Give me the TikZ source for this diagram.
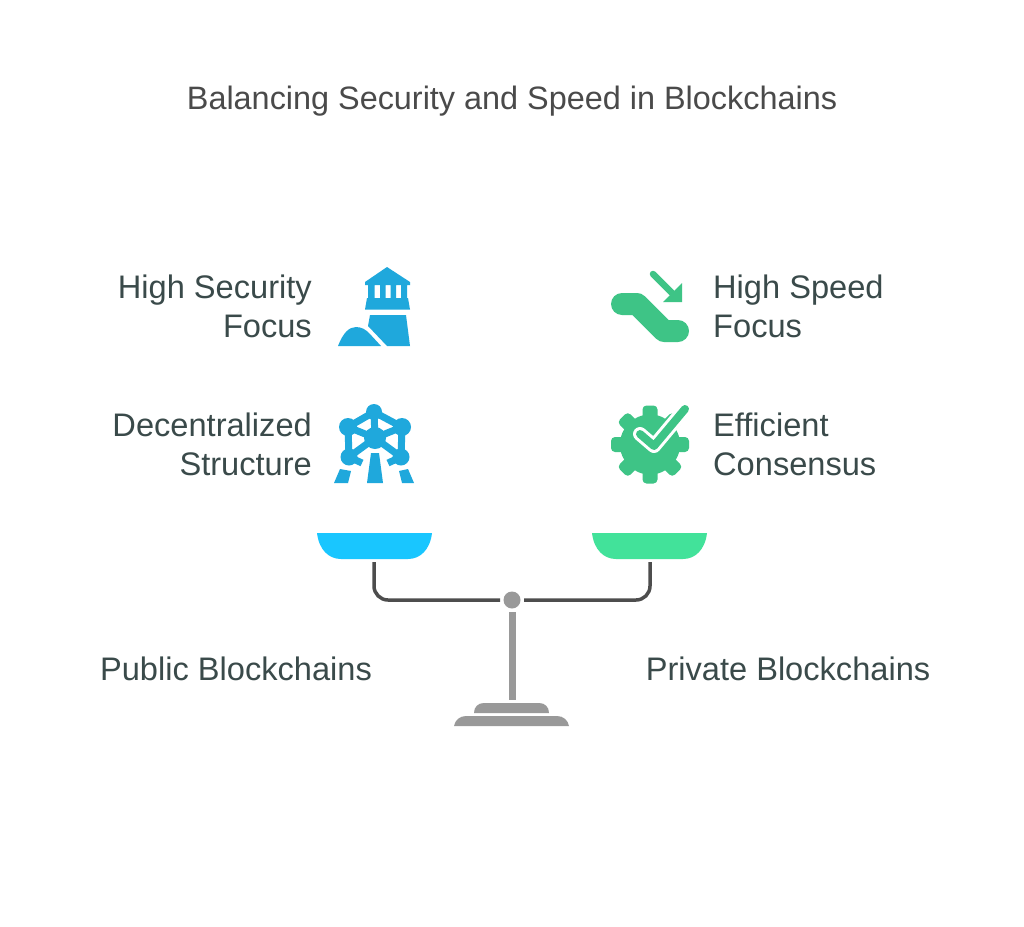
\documentclass[tikz,border=0pt]{standalone}
\usepackage{fontspec}
\setmainfont{Liberation Sans}
\usetikzlibrary{positioning}
\definecolor{panblue}{HTML}{19C6FF}
\definecolor{pangreen}{HTML}{42E29A}
\definecolor{iconblue}{HTML}{1FA8DC}
\definecolor{icongreen}{HTML}{3EC486}
\definecolor{labelgray}{HTML}{3A4A4A}
\definecolor{titlegray}{HTML}{4A4A4A}
\definecolor{beamgray}{HTML}{4D4D4D}
\definecolor{standgray}{HTML}{999999}
\tikzset{
	lab/.style={text=labelgray,font=\fontsize{32.6}{39}\selectfont,inner sep=0pt},
	beam/.style={draw=beamgray,line width=3.5pt,rounded corners=14pt},
	stand/.style={fill=standgray},
}
\begin{document}
\begin{tikzpicture}[x=1pt,y=-1pt]
	\useasboundingbox (0,0) rectangle (1024,926);
	\fill[white] (0,0) rectangle (1024,926);
	\path (512,101) node (title) [text=titlegray,font=\fontsize{32.4}{36}\selectfont,inner sep=0pt] {Balancing Security and Speed in Blockchains};
	% labels
	\path (312,306.5) node (security) [lab,anchor=east,align=right] {High Security\\Focus}
	(312,444) node (structure) [lab,anchor=east,align=right] {Decentralized\\Structure}
	(713,306.5) node (speed) [lab,anchor=west,align=left] {High Speed\\Focus}
	(713,444) node (consensus) [lab,anchor=west,align=left] {Efficient\\Consensus}
	(236,669) node (public) [lab] {Public Blockchains}
	(788,669) node (private) [lab] {Private Blockchains};
	% lighthouse
	\fill[iconblue] (365,282) -- (387,267) -- (410,282) -- (410,285) -- (365,285) -- cycle
	(368,285) rectangle (374.5,298) (380,285) rectangle (385.5,298) (390.5,285) rectangle (396,298) (401,285) rectangle (407,298)
	(367,298) -- (408,298) -- (410,309.5) -- (365,309.5) -- cycle
	(370,315) -- (406,315) -- (410,346) -- (387,346) -- (368,326) -- cycle
	(338,346) .. controls (343,333) and (349,327) .. (356,327) .. controls (362,327) and (366,330) .. (369,333) -- (381,346) -- cycle;
	% atom
	\draw[iconblue,line width=7pt,line join=round] (374,412) -- (348,427) -- (349,457) (374,412) -- (402,427) -- (401,457)
	(375,438) -- (374,412) (375,438) -- (348,427) (375,438) -- (402,427) (375,438) -- (349,457) (375,438) -- (401,457)
	(349,457) -- (362,463) (401,457) -- (388,463);
	\fill[iconblue] (374,412) circle (8) (348,427) circle (9) (402,427) circle (9) (349,457) circle (8.5) (401,457) circle (8.5) (375,438) circle (11)
	(371,453) -- (379,453) -- (383,483) -- (367,483) -- cycle
	(340,469) -- (351,471) -- (348,483) -- (334,483) -- cycle
	(399,471) -- (408,469) -- (414,483) -- (402,483) -- cycle;
	% escalator
	\draw[icongreen,line width=22pt,line cap=round,line join=round] (622,304) -- (637,304) -- (664,331) -- (678,331);
	\draw[icongreen,line width=6.5pt,line cap=round] (653,274) -- (672,293);
	\fill[icongreen] (682,283) -- (682,302) -- (663,302) -- cycle;
	% gear
	\fill[icongreen] (650,444.5) circle (30);
	\foreach \a in {0,45,...,315}
		\fill[icongreen,rounded corners=4pt,rotate around={\a:(650,444.5)}] (650,437) rectangle (689,452);
	\draw[white,line width=14pt,line cap=round,line join=round] (685,409) -- (654,446) -- (640,434);
	\draw[icongreen,line width=8pt,line cap=round,line join=round] (685,409) -- (654,446) -- (640,434);
	% scale
	\fill[panblue] (317,533) -- (432,533) .. controls (430,550) and (420,559) .. (408,559) -- (341,559) .. controls (329,559) and (319,550) .. (317,533) -- cycle;
	\fill[pangreen] (592,533) -- (707,533) .. controls (705,550) and (695,559) .. (683,559) -- (616,559) .. controls (604,559) and (594,550) .. (592,533) -- cycle;
	\path (512,600) node (pivot) [circle,fill=standgray,minimum size=17pt,inner sep=0pt,outer sep=3.5pt] {}
	(374,562) coordinate (panL)
	(650,562) coordinate (panR)
	(512,700) coordinate (foot);
	\draw[beam] (panL) |- (pivot);
	\draw[beam] (panR) |- (pivot);
	\draw[standgray,line width=7pt] (pivot) -- (foot);
	\fill[stand] (474,713) .. controls (474,707) and (478,703) .. (484,703) -- (539,703) .. controls (545,703) and (549,707) .. (549,713) -- cycle;
	\fill[stand] (454,726) .. controls (455,720) and (460,716) .. (466,716) -- (557,716) .. controls (563,716) and (568,720) .. (569,726) -- cycle;
\end{tikzpicture}
\end{document}
